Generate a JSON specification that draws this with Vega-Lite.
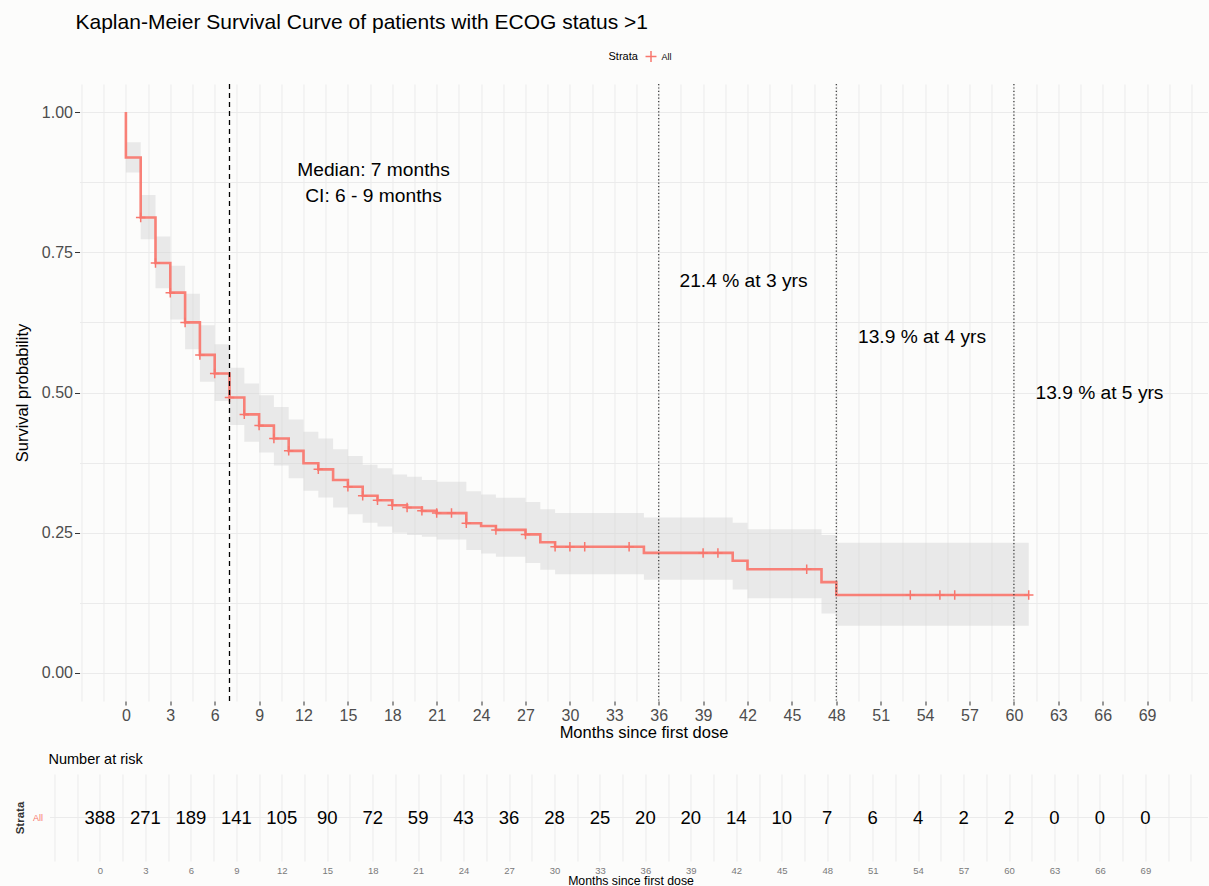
{
  "$schema": "https://vega.github.io/schema/vega-lite/v6.json",
  "background": "#fcfcfb",
  "padding": {"left": 13.5, "top": 12, "right": 0, "bottom": 0},
  "spacing": 10,
  "config": {
    "font": "Liberation Sans",
    "view": {"stroke": null},
    "axis": {"domain": false, "gridColor": "#ebebeb", "gridWidth": 1, "labelFont": "Liberation Sans", "titleFont": "Liberation Sans", "titleFontWeight": "normal", "titleColor": "#000000"},
    "legend": {"labelFont": "Liberation Sans", "titleFont": "Liberation Sans"}
  },
  "datasets": {
    "curve": [
      {"t": 0, "s": 1.0, "o": 0}, {"t": 0, "s": 0.919, "o": 1}, {"t": 1, "s": 0.812, "o": 2}, {"t": 2, "s": 0.731, "o": 3},
      {"t": 3, "s": 0.678, "o": 4}, {"t": 4, "s": 0.625, "o": 5}, {"t": 5, "s": 0.567, "o": 6}, {"t": 6, "s": 0.534, "o": 7},
      {"t": 7, "s": 0.491, "o": 8}, {"t": 8, "s": 0.461, "o": 9}, {"t": 9, "s": 0.441, "o": 10}, {"t": 10, "s": 0.418, "o": 11},
      {"t": 11, "s": 0.396, "o": 12}, {"t": 12, "s": 0.374, "o": 13}, {"t": 13, "s": 0.363, "o": 14}, {"t": 14, "s": 0.344, "o": 15},
      {"t": 15, "s": 0.332, "o": 16}, {"t": 16, "s": 0.316, "o": 17}, {"t": 17, "s": 0.308, "o": 18}, {"t": 18, "s": 0.299, "o": 19},
      {"t": 19, "s": 0.295, "o": 20}, {"t": 20, "s": 0.289, "o": 21}, {"t": 21, "s": 0.285, "o": 22}, {"t": 23, "s": 0.267, "o": 23},
      {"t": 24, "s": 0.262, "o": 24}, {"t": 25, "s": 0.255, "o": 25}, {"t": 27, "s": 0.247, "o": 26}, {"t": 28, "s": 0.233, "o": 27},
      {"t": 29, "s": 0.225, "o": 28}, {"t": 35, "s": 0.214, "o": 29}, {"t": 41, "s": 0.200, "o": 30}, {"t": 42, "s": 0.185, "o": 31},
      {"t": 47, "s": 0.162, "o": 32}, {"t": 48, "s": 0.139, "o": 33}, {"t": 61, "s": 0.139, "o": 34}
    ],
    "band": [
      {"t": 0, "lo": 0.892, "hi": 0.946}, {"t": 1, "lo": 0.773, "hi": 0.852}, {"t": 2, "lo": 0.686, "hi": 0.778},
      {"t": 3, "lo": 0.630, "hi": 0.726}, {"t": 4, "lo": 0.577, "hi": 0.676}, {"t": 5, "lo": 0.519, "hi": 0.620},
      {"t": 6, "lo": 0.485, "hi": 0.586}, {"t": 7, "lo": 0.442, "hi": 0.544}, {"t": 8, "lo": 0.412, "hi": 0.516},
      {"t": 9, "lo": 0.393, "hi": 0.495}, {"t": 10, "lo": 0.370, "hi": 0.474}, {"t": 11, "lo": 0.347, "hi": 0.452},
      {"t": 12, "lo": 0.325, "hi": 0.430}, {"t": 13, "lo": 0.313, "hi": 0.418}, {"t": 14, "lo": 0.295, "hi": 0.399},
      {"t": 15, "lo": 0.283, "hi": 0.387}, {"t": 16, "lo": 0.268, "hi": 0.371}, {"t": 17, "lo": 0.261, "hi": 0.365},
      {"t": 18, "lo": 0.250, "hi": 0.354}, {"t": 19, "lo": 0.246, "hi": 0.350}, {"t": 20, "lo": 0.243, "hi": 0.344},
      {"t": 21, "lo": 0.238, "hi": 0.341}, {"t": 23, "lo": 0.219, "hi": 0.324}, {"t": 24, "lo": 0.213, "hi": 0.318},
      {"t": 25, "lo": 0.207, "hi": 0.3125}, {"t": 27, "lo": 0.196, "hi": 0.305}, {"t": 28, "lo": 0.184, "hi": 0.292},
      {"t": 29, "lo": 0.176, "hi": 0.285}, {"t": 35, "lo": 0.166, "hi": 0.277}, {"t": 41, "lo": 0.149, "hi": 0.268},
      {"t": 42, "lo": 0.133, "hi": 0.256}, {"t": 47, "lo": 0.106, "hi": 0.246}, {"t": 48, "lo": 0.084, "hi": 0.232},
      {"t": 61, "lo": 0.084, "hi": 0.232}
    ],
    "censor": [
      {"t": 1, "s": 0.812, "g": "All"}, {"t": 2, "s": 0.731, "g": "All"}, {"t": 3, "s": 0.678, "g": "All"}, {"t": 4, "s": 0.625, "g": "All"},
      {"t": 5, "s": 0.567, "g": "All"}, {"t": 6, "s": 0.534, "g": "All"}, {"t": 7, "s": 0.491, "g": "All"}, {"t": 8, "s": 0.461, "g": "All"},
      {"t": 9, "s": 0.441, "g": "All"}, {"t": 10, "s": 0.418, "g": "All"}, {"t": 11, "s": 0.396, "g": "All"}, {"t": 13, "s": 0.363, "g": "All"},
      {"t": 15, "s": 0.332, "g": "All"}, {"t": 16, "s": 0.316, "g": "All"}, {"t": 17, "s": 0.308, "g": "All"}, {"t": 18, "s": 0.299, "g": "All"},
      {"t": 19, "s": 0.295, "g": "All"}, {"t": 20, "s": 0.289, "g": "All"}, {"t": 21, "s": 0.285, "g": "All"}, {"t": 22, "s": 0.285, "g": "All"},
      {"t": 23, "s": 0.267, "g": "All"}, {"t": 25, "s": 0.255, "g": "All"}, {"t": 27, "s": 0.247, "g": "All"}, {"t": 29, "s": 0.225, "g": "All"},
      {"t": 30, "s": 0.225, "g": "All"}, {"t": 31, "s": 0.225, "g": "All"}, {"t": 34, "s": 0.225, "g": "All"}, {"t": 39, "s": 0.214, "g": "All"},
      {"t": 40, "s": 0.214, "g": "All"}, {"t": 46, "s": 0.185, "g": "All"}, {"t": 53, "s": 0.139, "g": "All"}, {"t": 55, "s": 0.139, "g": "All"},
      {"t": 56, "s": 0.139, "g": "All"}, {"t": 61, "s": 0.139, "g": "All"}
    ],
    "notes": [
      {"t": 16.73, "s": 0.896, "label": "Median: 7 months"},
      {"t": 16.73, "s": 0.850, "label": "CI: 6 - 9 months"},
      {"t": 41.73, "s": 0.6985, "label": "21.4 % at 3 yrs"},
      {"t": 53.79, "s": 0.5987, "label": "13.9 % at 4 yrs"},
      {"t": 65.78, "s": 0.4989, "label": "13.9 % at 5 yrs"}
    ],
    "risk": [
      {"t": 0, "n": 388, "g": "All"}, {"t": 3, "n": 271, "g": "All"}, {"t": 6, "n": 189, "g": "All"}, {"t": 9, "n": 141, "g": "All"},
      {"t": 12, "n": 105, "g": "All"}, {"t": 15, "n": 90, "g": "All"}, {"t": 18, "n": 72, "g": "All"}, {"t": 21, "n": 59, "g": "All"},
      {"t": 24, "n": 43, "g": "All"}, {"t": 27, "n": 36, "g": "All"}, {"t": 30, "n": 28, "g": "All"}, {"t": 33, "n": 25, "g": "All"},
      {"t": 36, "n": 20, "g": "All"}, {"t": 39, "n": 20, "g": "All"}, {"t": 42, "n": 14, "g": "All"}, {"t": 45, "n": 10, "g": "All"},
      {"t": 48, "n": 7, "g": "All"}, {"t": 51, "n": 6, "g": "All"}, {"t": 54, "n": 4, "g": "All"}, {"t": 57, "n": 2, "g": "All"},
      {"t": 60, "n": 2, "g": "All"}, {"t": 63, "n": 0, "g": "All"}, {"t": 66, "n": 0, "g": "All"}, {"t": 69, "n": 0, "g": "All"}
    ]
  },
  "vconcat": [
    {
      "width": 1128,
      "height": 617,
      "title": {"text": "Kaplan-Meier Survival Curve of patients with ECOG status >1", "anchor": "start", "frame": "group", "fontSize": 21, "fontWeight": "normal", "color": "#000000", "offset": 50, "dx": -4},
      "encoding": {
        "x": {
          "field": "t", "type": "quantitative",
          "scale": {"domain": [-3.135, 73.08], "nice": false, "zero": false},
          "axis": {
            "title": "Months since first dose", "titleFontSize": 16.5, "titlePadding": 1,
            "values": [-3, -1.5, 0, 1.5, 3, 4.5, 6, 7.5, 9, 10.5, 12, 13.5, 15, 16.5, 18, 19.5, 21, 22.5, 24, 25.5, 27, 28.5, 30, 31.5, 33, 34.5, 36, 37.5, 39, 40.5, 42, 43.5, 45, 46.5, 48, 49.5, 51, 52.5, 54, 55.5, 57, 58.5, 60, 61.5, 63, 64.5, 66, 67.5, 69, 70.5, 72],
            "labelExpr": "datum.value >= 0 && datum.value <= 69 && datum.value % 3 === 0 ? datum.label : ''",
            "labelFontSize": 16, "labelColor": "#4d4d4d", "labelPadding": 2,
            "tickSize": 4, "tickColor": "#333333",
            "tickOpacity": {"condition": {"test": "datum.value >= 0 && datum.value <= 69 && datum.value % 3 === 0", "value": 1}, "value": 0}
          }
        }
      },
      "layer": [
        {
          "data": {"name": "band"},
          "mark": {"type": "area", "interpolate": "step-after", "color": "#d2d2d2", "opacity": 0.45},
          "encoding": {
            "y": {
              "field": "lo", "type": "quantitative",
              "scale": {"domain": [-0.05, 1.05], "nice": false, "zero": false},
              "axis": {
                "title": "Survival probability", "titleFontSize": 16.5, "titlePadding": 11,
                "values": [0, 0.125, 0.25, 0.375, 0.5, 0.625, 0.75, 0.875, 1],
                "labelExpr": "datum.value % 0.25 === 0 ? format(datum.value, '.2f') : ''",
                "labelFontSize": 16, "labelColor": "#4d4d4d", "labelPadding": 2,
                "tickSize": 5, "tickColor": "#333333",
                "tickOpacity": {"condition": {"test": "datum.value % 0.25 === 0", "value": 1}, "value": 0}
              }
            },
            "y2": {"field": "hi"}
          }
        },
        {
          "data": {"name": "curve"},
          "mark": {"type": "line", "interpolate": "step-after", "color": "#F8766D", "strokeWidth": 2.6, "opacity": 0.92},
          "encoding": {
            "y": {"field": "s", "type": "quantitative", "title": "Survival probability", "scale": {"domain": [-0.05, 1.05], "nice": false, "zero": false}},
            "order": {"field": "o", "type": "quantitative"}
          }
        },
        {
          "data": {"name": "censor"},
          "mark": {"type": "point", "shape": "M-1,0H1M0,-1V1", "filled": false, "strokeWidth": 1.5, "size": 90, "opacity": 1},
          "encoding": {
            "y": {"field": "s", "type": "quantitative", "title": "Survival probability", "scale": {"domain": [-0.05, 1.05], "nice": false, "zero": false}},
            "color": {
              "field": "g", "type": "nominal",
              "scale": {"domain": ["All"], "range": ["#F8766D"]},
              "legend": {
                "title": "Strata", "orient": "none", "legendX": 529, "legendY": -34, "direction": "horizontal",
                "titleOrient": "left", "titleFontSize": 11, "titleFontWeight": "normal", "titleColor": "#000000", "titlePadding": 6,
                "labelFontSize": 9, "labelColor": "#000000",
                "symbolType": "M-1,0H1M0,-1V1", "symbolStrokeWidth": 1.5, "symbolSize": 120
              }
            }
          }
        },
        {
          "data": {"values": [{"t": 7}]},
          "mark": {"type": "rule", "color": "#000000", "strokeWidth": 1.3, "strokeDash": [5, 4]},
          "encoding": {}
        },
        {
          "data": {"values": [{"t": 36}, {"t": 48}, {"t": 60}]},
          "mark": {"type": "rule", "color": "#333333", "strokeWidth": 1.2, "strokeDash": [1.2, 2.2]},
          "encoding": {}
        },
        {
          "data": {"name": "notes"},
          "mark": {"type": "text", "fontSize": 19.2, "color": "#000000", "align": "center", "baseline": "middle"},
          "encoding": {
            "y": {"field": "s", "type": "quantitative", "title": "Survival probability", "scale": {"domain": [-0.05, 1.05], "nice": false, "zero": false}},
            "text": {"field": "label"}
          }
        }
      ]
    },
    {
      "width": 1128,
      "height": 87,
      "title": {"text": "Number at risk", "anchor": "start", "frame": "group", "fontSize": 14.5, "fontWeight": "normal", "color": "#000000", "offset": 7, "dx": -31},
      "data": {"name": "risk"},
      "encoding": {
        "x": {
          "field": "t", "type": "quantitative",
          "scale": {"domain": [-3.0, 73.1], "range": [-25, 1128], "nice": false, "zero": false},
          "axis": {
            "title": "Months since first dose", "titleFontSize": 12.3, "titlePadding": 0, "titleX": 551,
            "values": [-3, -1.5, 0, 1.5, 3, 4.5, 6, 7.5, 9, 10.5, 12, 13.5, 15, 16.5, 18, 19.5, 21, 22.5, 24, 25.5, 27, 28.5, 30, 31.5, 33, 34.5, 36, 37.5, 39, 40.5, 42, 43.5, 45, 46.5, 48, 49.5, 51, 52.5, 54, 55.5, 57, 58.5, 60, 61.5, 63, 64.5, 66, 67.5, 69, 70.5, 72],
            "labelExpr": "datum.value >= 0 && datum.value <= 69 && datum.value % 3 === 0 ? datum.label : ''",
            "labelFontSize": 9.5, "labelColor": "#7a7a7a", "labelPadding": 4,
            "ticks": false, "tickSize": 0
          }
        },
        "y": {
          "field": "g", "type": "nominal",
          "axis": {
            "title": "Strata", "titleFontSize": 11.5, "titleFontWeight": "bold", "titleColor": "#333333", "titlePadding": 7,
            "labelColor": "#F8766D", "labelFontSize": 9, "labelPadding": 12, "offset": 25,
            "ticks": false, "tickSize": 0, "grid": false
          }
        }
      },
      "layer": [
        {
          "mark": {"type": "rule", "color": "#ebebeb", "strokeWidth": 1},
          "encoding": {
            "x": {"datum": -3.3},
            "x2": {"datum": 73.1}
          }
        },
        {
          "mark": {"type": "text", "fontSize": 18.5, "color": "#000000", "baseline": "middle"},
          "encoding": {
            "text": {"field": "n", "type": "quantitative"}
          }
        }
      ]
    }
  ]
}
